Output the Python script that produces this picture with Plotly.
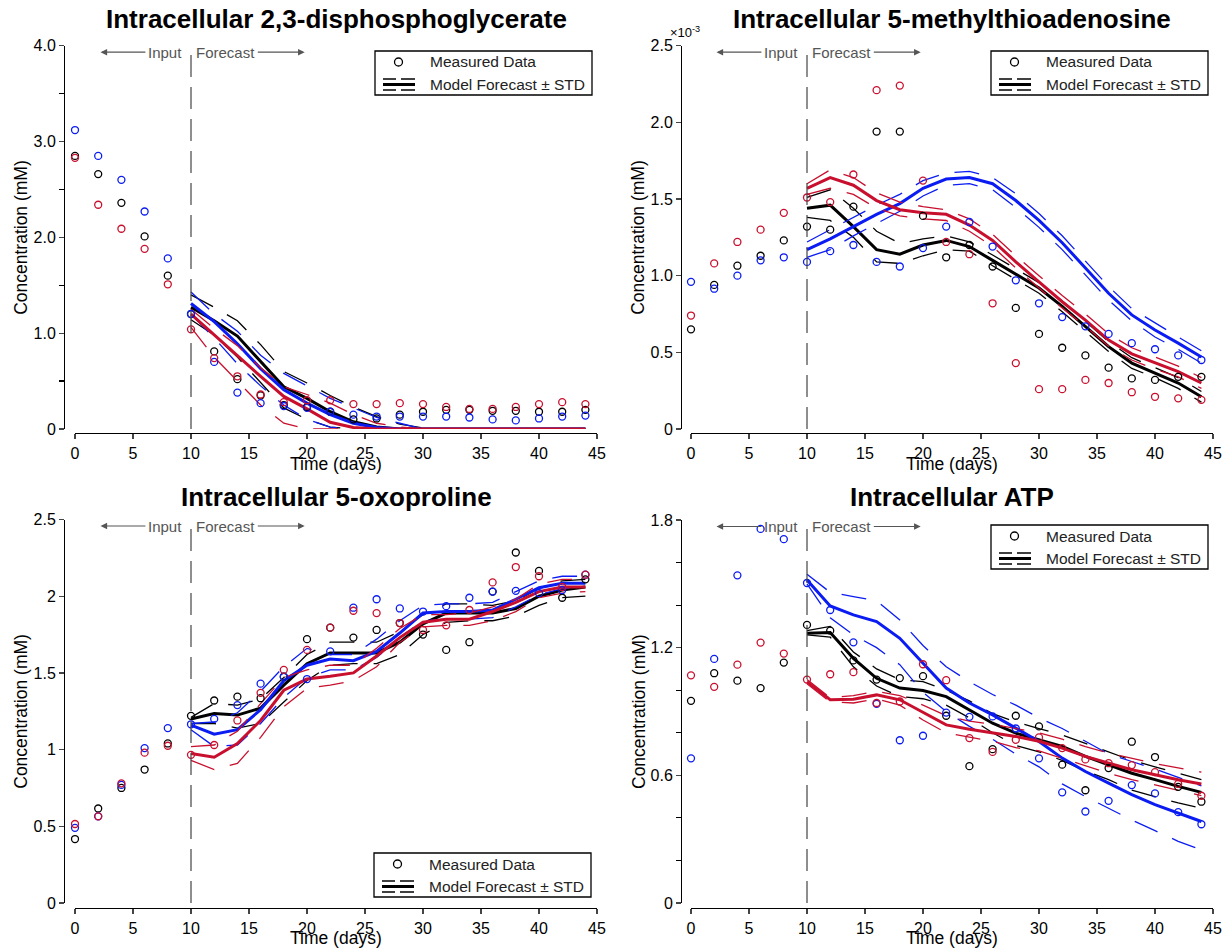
import plotly.graph_objects as go

# ---------------- data ----------------
t_meas = [0, 2, 4, 6, 8, 10, 12, 14, 16, 18, 20, 22, 24, 26, 28, 30, 32, 34, 36, 38, 40, 42, 44]
t_model = [10, 12, 14, 16, 18, 20, 22, 24, 26, 28, 30, 32, 34, 36, 38, 40, 42, 44]
x_ticks = [0, 5, 10, 15, 20, 25, 30, 35, 40, 45]

titles = ["Intracellular 2,3-disphosphoglycerate", "Intracellular 5-methylthioadenosine",
          "Intracellular 5-oxoproline", "Intracellular ATP"]

# Panel 1: 2,3-disphosphoglycerate
dpg_black = [2.85, 2.66, 2.36, 2.01, 1.60, 1.20, 0.81, 0.52, 0.35, 0.25, 0.23, 0.18, 0.10, 0.11, 0.15, 0.18, 0.20, 0.20, 0.19, 0.19, 0.18, 0.18, 0.20]
dpg_blue = [3.12, 2.85, 2.60, 2.27, 1.78, 1.20, 0.70, 0.38, 0.27, 0.24, 0.22, 0.18, 0.15, 0.13, 0.13, 0.13, 0.13, 0.12, 0.10, 0.09, 0.11, 0.13, 0.14]
dpg_red = [2.83, 2.34, 2.09, 1.88, 1.51, 1.04, 0.74, 0.55, 0.36, 0.28, 0.30, 0.30, 0.26, 0.26, 0.27, 0.26, 0.23, 0.21, 0.21, 0.23, 0.26, 0.28, 0.26]
dpg_black_mean = [1.27, 1.13, 0.97, 0.70, 0.44, 0.32, 0.18, 0.075, 0.02, 0, 0, 0, 0, 0, 0, 0, 0, 0]
dpg_black_up = [1.40, 1.27, 1.13, 0.88, 0.60, 0.48, 0.35, 0.23, 0.13, 0.05, 0.01, 0, 0, 0, 0, 0, 0, 0]
dpg_black_lo = [1.14, 0.98, 0.75, 0.48, 0.22, 0.10, 0.02, 0, 0, 0, 0, 0, 0, 0, 0, 0, 0, 0]
dpg_blue_mean = [1.31, 1.12, 0.89, 0.63, 0.41, 0.27, 0.15, 0.06, 0.015, 0, 0, 0, 0, 0, 0, 0, 0, 0]
dpg_blue_up = [1.43, 1.20, 1.02, 0.77, 0.58, 0.45, 0.32, 0.22, 0.12, 0.06, 0, 0, 0, 0, 0, 0, 0, 0]
dpg_blue_lo = [1.20, 0.95, 0.68, 0.45, 0.25, 0.10, 0.02, 0, 0, 0, 0, 0, 0, 0, 0, 0, 0, 0]
dpg_red_mean = [1.20, 0.98, 0.76, 0.55, 0.34, 0.21, 0.07, 0.015, 0, 0, 0, 0, 0, 0, 0, 0, 0, 0]
dpg_red_up = [1.25, 1.05, 0.87, 0.64, 0.44, 0.36, 0.27, 0.15, 0.06, 0.02, 0, 0, 0, 0, 0, 0, 0, 0]
dpg_red_lo = [1.06, 0.75, 0.50, 0.25, 0.06, 0, 0, 0, 0, 0, 0, 0, 0, 0, 0, 0, 0, 0]

# Panel 2: 5-methylthioadenosine (x 1e-3 mM)
mta_black = [0.65, 0.94, 1.065, 1.13, 1.23, 1.32, 1.30, 1.45, 1.94, 1.94, 1.39, 1.12, 1.20, 1.06, 0.79, 0.62, 0.53, 0.48, 0.40, 0.33, 0.32, 0.34, 0.34]
mta_blue = [0.96, 0.915, 1.00, 1.10, 1.12, 1.09, 1.16, 1.20, 1.09, 1.06, 1.18, 1.32, 1.35, 1.19, 0.97, 0.82, 0.73, 0.67, 0.62, 0.56, 0.52, 0.48, 0.45]
mta_red = [0.74, 1.08, 1.22, 1.30, 1.41, 1.51, 1.48, 1.66, 2.21, 2.24, 1.62, 1.22, 1.14, 0.82, 0.43, 0.26, 0.26, 0.32, 0.30, 0.24, 0.21, 0.20, 0.19]
mta_black_mean = [1.44, 1.46, 1.32, 1.17, 1.14, 1.20, 1.23, 1.19, 1.10, 1.01, 0.92, 0.80, 0.667, 0.537, 0.43, 0.367, 0.30, 0.21]
mta_black_up = [1.51, 1.56, 1.44, 1.29, 1.21, 1.24, 1.26, 1.22, 1.135, 1.045, 0.955, 0.835, 0.70, 0.57, 0.465, 0.40, 0.335, 0.245]
mta_black_lo = [1.38, 1.36, 1.25, 1.09, 1.08, 1.13, 1.17, 1.16, 1.065, 0.975, 0.885, 0.765, 0.635, 0.505, 0.395, 0.335, 0.265, 0.175]
mta_blue_mean = [1.17, 1.24, 1.32, 1.40, 1.47, 1.57, 1.63, 1.64, 1.60, 1.49, 1.36, 1.215, 1.05, 0.885, 0.744, 0.646, 0.56, 0.47]
mta_blue_up = [1.22, 1.30, 1.38, 1.46, 1.53, 1.62, 1.67, 1.68, 1.64, 1.535, 1.405, 1.26, 1.095, 0.93, 0.785, 0.69, 0.60, 0.51]
mta_blue_lo = [1.12, 1.17, 1.26, 1.34, 1.42, 1.52, 1.59, 1.60, 1.56, 1.445, 1.315, 1.17, 1.005, 0.84, 0.705, 0.60, 0.52, 0.43]
mta_red_mean = [1.57, 1.64, 1.59, 1.49, 1.43, 1.41, 1.40, 1.33, 1.23, 1.09, 0.96, 0.83, 0.71, 0.58, 0.49, 0.43, 0.374, 0.30]
mta_red_up = [1.60, 1.69, 1.64, 1.54, 1.48, 1.45, 1.43, 1.37, 1.27, 1.13, 1.00, 0.87, 0.75, 0.62, 0.53, 0.47, 0.41, 0.335]
mta_red_lo = [1.53, 1.57, 1.53, 1.44, 1.39, 1.37, 1.36, 1.29, 1.19, 1.05, 0.92, 0.79, 0.67, 0.54, 0.45, 0.39, 0.34, 0.265]

# Panel 3: 5-oxoproline
oxo_black = [0.417, 0.616, 0.75, 0.87, 1.04, 1.22, 1.32, 1.345, 1.335, 1.475, 1.72, 1.795, 1.73, 1.78, 1.825, 1.75, 1.65, 1.70, 2.03, 2.285, 2.165, 1.99, 2.11]
oxo_blue = [0.49, 0.565, 0.77, 1.01, 1.14, 1.165, 1.20, 1.29, 1.43, 1.475, 1.46, 1.64, 1.925, 1.98, 1.92, 1.90, 1.935, 1.99, 2.03, 2.035, 2.02, 2.04, 2.14]
oxo_red = [0.515, 0.565, 0.78, 0.98, 1.025, 0.966, 1.03, 1.19, 1.37, 1.52, 1.65, 1.795, 1.905, 1.89, 1.825, 1.78, 1.81, 1.91, 2.09, 2.19, 2.13, 2.06, 2.14]
oxo_black_mean = [1.20, 1.235, 1.225, 1.27, 1.42, 1.56, 1.63, 1.63, 1.63, 1.70, 1.82, 1.89, 1.89, 1.89, 1.92, 2.00, 2.04, 2.06]
oxo_black_up = [1.21, 1.30, 1.29, 1.33, 1.47, 1.62, 1.70, 1.70, 1.70, 1.77, 1.88, 1.95, 1.95, 1.94, 1.97, 2.05, 2.10, 2.11]
oxo_black_lo = [1.17, 1.17, 1.14, 1.17, 1.31, 1.45, 1.55, 1.56, 1.56, 1.62, 1.75, 1.83, 1.84, 1.84, 1.87, 1.94, 1.99, 2.00]
oxo_blue_mean = [1.16, 1.10, 1.13, 1.26, 1.45, 1.55, 1.59, 1.58, 1.64, 1.76, 1.89, 1.90, 1.90, 1.91, 1.98, 2.055, 2.085, 2.085]
oxo_blue_up = [1.17, 1.18, 1.24, 1.38, 1.54, 1.66, 1.62, 1.62, 1.72, 1.84, 1.94, 1.95, 1.95, 1.96, 2.03, 2.10, 2.13, 2.13]
oxo_blue_lo = [1.13, 1.02, 1.03, 1.17, 1.34, 1.47, 1.52, 1.52, 1.60, 1.73, 1.84, 1.85, 1.85, 1.86, 1.93, 2.01, 2.05, 2.06]
oxo_red_mean = [0.975, 0.95, 1.04, 1.19, 1.387, 1.46, 1.478, 1.50, 1.61, 1.73, 1.83, 1.85, 1.85, 1.90, 1.96, 2.03, 2.06, 2.06]
oxo_red_up = [1.02, 1.03, 1.12, 1.30, 1.47, 1.52, 1.55, 1.55, 1.66, 1.79, 1.88, 1.88, 1.89, 1.93, 1.98, 2.08, 2.11, 2.11]
oxo_red_lo = [0.93, 0.87, 0.91, 1.08, 1.28, 1.40, 1.42, 1.45, 1.54, 1.70, 1.80, 1.81, 1.81, 1.84, 1.90, 1.99, 2.02, 2.03]

# Panel 4: ATP
atp_black = [0.95, 1.08, 1.045, 1.01, 1.13, 1.307, 1.28, 1.14, 1.05, 1.057, 1.066, 0.88, 0.643, 0.723, 0.88, 0.83, 0.65, 0.53, 0.634, 0.758, 0.686, 0.546, 0.476]
atp_blue = [0.68, 1.147, 1.54, 1.758, 1.71, 1.504, 1.377, 1.225, 0.936, 0.765, 0.786, 0.895, 0.875, 0.877, 0.82, 0.68, 0.52, 0.43, 0.48, 0.554, 0.515, 0.427, 0.37]
atp_red = [1.07, 1.016, 1.12, 1.224, 1.172, 1.05, 1.075, 1.085, 0.94, 0.947, 1.122, 1.047, 0.775, 0.71, 0.767, 0.778, 0.728, 0.675, 0.657, 0.648, 0.615, 0.56, 0.504]
atp_black_mean = [1.268, 1.271, 1.15, 1.056, 1.01, 0.999, 0.97, 0.908, 0.845, 0.798, 0.767, 0.736, 0.689, 0.65, 0.61, 0.58, 0.548, 0.52]
atp_black_up = [1.28, 1.30, 1.18, 1.10, 1.05, 1.04, 1.00, 0.95, 0.89, 0.85, 0.82, 0.79, 0.75, 0.71, 0.67, 0.64, 0.61, 0.58]
atp_black_lo = [1.26, 1.25, 1.11, 1.02, 0.97, 0.96, 0.93, 0.87, 0.80, 0.74, 0.71, 0.67, 0.62, 0.58, 0.53, 0.50, 0.47, 0.445]
atp_blue_mean = [1.518, 1.396, 1.354, 1.323, 1.244, 1.127, 1.01, 0.94, 0.884, 0.822, 0.759, 0.681, 0.618, 0.563, 0.509, 0.462, 0.423, 0.383]
atp_blue_up = [1.545, 1.46, 1.44, 1.42, 1.33, 1.21, 1.11, 1.04, 0.98, 0.93, 0.87, 0.82, 0.76, 0.70, 0.665, 0.63, 0.59, 0.55]
atp_blue_lo = [1.50, 1.34, 1.26, 1.20, 1.12, 0.99, 0.90, 0.83, 0.77, 0.70, 0.64, 0.56, 0.50, 0.445, 0.39, 0.34, 0.29, 0.25]
atp_red_mean = [1.04, 0.955, 0.958, 0.978, 0.955, 0.895, 0.837, 0.817, 0.80, 0.783, 0.76, 0.728, 0.689, 0.657, 0.626, 0.603, 0.579, 0.559]
atp_red_up = [1.05, 0.965, 0.975, 0.995, 0.975, 0.93, 0.88, 0.855, 0.84, 0.82, 0.80, 0.77, 0.735, 0.705, 0.68, 0.655, 0.635, 0.615]
atp_red_lo = [1.03, 0.945, 0.94, 0.96, 0.93, 0.86, 0.80, 0.78, 0.76, 0.73, 0.715, 0.68, 0.645, 0.61, 0.58, 0.555, 0.53, 0.505]

# y-axis ticks
p1_yticks = [0, 1, 2, 3, 4]
p1_ylabels = ["0", "1.0", "2.0", "3.0", "4.0"]
p1_yminor = [0.5, 1.5, 2.5, 3.5]
p2_yticks = [0, 0.5, 1, 1.5, 2, 2.5]
p2_ylabels = ["0", "0.5", "1.0", "1.5", "2.0", "2.5"]
p3_yticks = [0, 0.5, 1, 1.5, 2, 2.5]
p3_ylabels = ["0", "0.5", "1", "1.5", "2", "2.5"]
p4_yticks = [0, 0.6, 1.2, 1.8]
p4_ylabels = ["0", "0.6", "1.2", "1.8"]
p4_yminor = [0.2, 0.4, 0.8, 1.0, 1.4, 1.6]

# ---------------- styling / layout ----------------
OFF = 0            # body margin removed by the post script below
W, H = 1222, 949
FONT = "Liberation Sans, Arial, sans-serif"
BLACK, BLUE, RED = "#000000", "#0a1cf2", "#c8102e"
GRAY = "#555555"
STD_DASH = "25px,16px"


def px(p):
    return (p - OFF) / W


def py(p):
    return 1 - (p - OFF) / H


panels = [
    dict(meas=[dpg_black, dpg_blue, dpg_red],
         mean=[dpg_black_mean, dpg_blue_mean, dpg_red_mean],
         up=[dpg_black_up, dpg_blue_up, dpg_red_up],
         lo=[dpg_black_lo, dpg_blue_lo, dpg_red_lo],
         yticks=p1_yticks, ylabels=p1_ylabels, yminor=p1_yminor, ymax=4.0,
         xl=75, xr=597, yt=45.7, yb=429, yax=64, xay=433, leg=(375, 51), title_y=19, xt_y=464),
    dict(meas=[mta_black, mta_blue, mta_red],
         mean=[mta_black_mean, mta_blue_mean, mta_red_mean],
         up=[mta_black_up, mta_blue_up, mta_red_up],
         lo=[mta_black_lo, mta_blue_lo, mta_red_lo],
         yticks=p2_yticks, ylabels=p2_ylabels, yminor=None, ymax=2.5,
         xl=691, xr=1213, yt=45.7, yb=429, yax=681, xay=433, leg=(991, 51), title_y=19, xt_y=464),
    dict(meas=[oxo_black, oxo_blue, oxo_red],
         mean=[oxo_black_mean, oxo_blue_mean, oxo_red_mean],
         up=[oxo_black_up, oxo_blue_up, oxo_red_up],
         lo=[oxo_black_lo, oxo_blue_lo, oxo_red_lo],
         yticks=p3_yticks, ylabels=p3_ylabels, yminor=None, ymax=2.5,
         xl=75, xr=597, yt=519.5, yb=903, yax=64, xay=908, leg=(374, 853), title_y=497, xt_y=938),
    dict(meas=[atp_black, atp_blue, atp_red],
         mean=[atp_black_mean, atp_blue_mean, atp_red_mean],
         up=[atp_black_up, atp_blue_up, atp_red_up],
         lo=[atp_black_lo, atp_blue_lo, atp_red_lo],
         yticks=p4_yticks, ylabels=p4_ylabels, yminor=p4_yminor, ymax=1.8,
         xl=691, xr=1213, yt=520, yb=903, yax=681, xay=908, leg=(991, 525), title_y=497, xt_y=938),
]

colors = [BLACK, BLUE, RED]
fig = go.Figure()
annotations = []
shapes = []
layout = {}

for i, p in enumerate(panels, start=1):
    xa = "x" if i == 1 else f"x{i}"
    ya = "y" if i == 1 else f"y{i}"
    # lines
    for c, mean, up, lo in zip(colors, p["mean"], p["up"], p["lo"]):
        for band in (up, lo):
            fig.add_trace(go.Scatter(x=t_model, y=band, xaxis=xa, yaxis=ya, mode="lines",
                                     line=dict(color=c, width=1.3, dash=STD_DASH),
                                     showlegend=False, hoverinfo="skip", cliponaxis=False))
        fig.add_trace(go.Scatter(x=t_model, y=mean, xaxis=xa, yaxis=ya, mode="lines",
                                 line=dict(color=c, width=3),
                                 showlegend=False, cliponaxis=False))
    for c, meas in zip(colors, p["meas"]):
        fig.add_trace(go.Scatter(x=t_meas, y=meas, xaxis=xa, yaxis=ya, mode="markers",
                                 marker=dict(symbol="circle-open", size=7, color=c, line=dict(width=1.3, color=c)),
                                 showlegend=False, cliponaxis=False))

    xkey = "xaxis" if i == 1 else f"xaxis{i}"
    ykey = "yaxis" if i == 1 else f"yaxis{i}"
    layout[xkey] = dict(domain=[px(p["xl"]), px(p["xr"])], range=[0, 45], anchor="free",
                        position=py(p["xay"]), tickvals=x_ticks, ticks="outside", ticklen=5,
                        tickwidth=1.2, showline=True, linecolor="black", linewidth=1.3,
                        showgrid=False, zeroline=False, automargin=False, ticklabeloverflow="allow",
                        tickfont=dict(family=FONT, size=16, color="black"))
    ydict = dict(domain=[py(p["yb"]), py(p["yt"])], range=[0, p["ymax"]], anchor="free",
                 position=px(p["yax"]), tickvals=p["yticks"], ticktext=p["ylabels"],
                 ticks="outside", ticklen=5, tickwidth=1.2, showline=True, linecolor="black",
                 linewidth=1.3, showgrid=False, zeroline=False, automargin=False,
                 ticklabeloverflow="allow",
                 tickfont=dict(family=FONT, size=16, color="black"))
    if p["yminor"]:
        ydict["minor"] = dict(tickvals=p["yminor"], ticks="outside", ticklen=5, tickwidth=1.2,
                              tickcolor="black", showgrid=False)
    layout[ykey] = ydict

    cx = (p["xl"] + p["xr"]) / 2
    # title
    annotations.append(dict(text="<b>" + titles[i - 1] + "</b>", xref="paper", yref="paper",
                            x=px(cx), y=py(p["title_y"]), showarrow=False, xanchor="center",
                            yanchor="middle", font=dict(family=FONT, size=26, color="black")))
    # axis titles
    annotations.append(dict(text="Time (days)", xref="paper", yref="paper", x=px(cx),
                            y=py(p["xt_y"]), showarrow=False, xanchor="center", yanchor="middle",
                            font=dict(family=FONT, size=17.5, color="black")))
    annotations.append(dict(text="Concentration (mM)", xref="paper", yref="paper",
                            x=px(p["yax"] - 42.5), y=py((p["yt"] + p["yb"]) / 2), textangle=-90,
                            showarrow=False, xanchor="center", yanchor="middle",
                            font=dict(family=FONT, size=17.5, color="black")))
    # input / forecast
    yin = p["ymax"] * (1 - 6.5 / (p["yb"] - p["yt"]))
    annotations.append(dict(text="Input", xref=xa, yref=ya, x=2.2, y=yin, axref=xa, ayref=ya,
                            ax=7.75, ay=yin, showarrow=True, arrowhead=2, arrowsize=1.1,
                            arrowwidth=1.2, arrowcolor=GRAY, borderpad=2,
                            font=dict(family=FONT, size=15, color=GRAY)))
    annotations.append(dict(text="Forecast", xref=xa, yref=ya, x=19.8, y=yin, axref=xa, ayref=ya,
                            ax=13.0, ay=yin, showarrow=True, arrowhead=2, arrowsize=1.1,
                            arrowwidth=1.2, arrowcolor=GRAY, borderpad=2,
                            font=dict(family=FONT, size=15, color=GRAY)))
    # vertical divider at day 10
    shapes.append(dict(type="line", xref=xa, yref=ya, x0=10, x1=10, y0=0, y1=p["ymax"],
                       line=dict(color="#444444", width=1.2, dash="22px,10px")))
    # legend box
    L, T = p["leg"]
    shapes.append(dict(type="rect", xref="paper", yref="paper", x0=px(L), x1=px(L + 217),
                       y0=py(T + 44), y1=py(T), line=dict(color="black", width=1.3),
                       fillcolor="white", layer="above"))
    shapes.append(dict(type="circle", xref="paper", yref="paper", x0=px(L + 19.5), x1=px(L + 27.5),
                       y0=py(T + 15), y1=py(T + 7), line=dict(color="black", width=1.3), layer="above"))
    for yy in (T + 28, T + 39):
        for a, b in ((L + 8, L + 21), (L + 26, L + 40)):
            shapes.append(dict(type="line", xref="paper", yref="paper", x0=px(a), x1=px(b),
                               y0=py(yy), y1=py(yy), line=dict(color="black", width=1.5), layer="above"))
    shapes.append(dict(type="line", xref="paper", yref="paper", x0=px(L + 8), x1=px(L + 40),
                       y0=py(T + 33.5), y1=py(T + 33.5), line=dict(color="black", width=3), layer="above"))
    annotations.append(dict(text="Measured Data", xref="paper", yref="paper", x=px(L + 53),
                            y=py(T + 11), showarrow=False, xanchor="left", yanchor="middle",
                            font=dict(family=FONT, size=15.5, color="#222222")))
    annotations.append(dict(text="Model Forecast ± STD", xref="paper", yref="paper", x=px(L + 53),
                            y=py(T + 33.5), showarrow=False, xanchor="left", yanchor="middle",
                            font=dict(family=FONT, size=15.5, color="#222222")))

# exponent label for panel 2
annotations.append(dict(text="×10<sup>-3</sup>", xref="paper", yref="paper",
                        x=px(668), y=py(32), showarrow=False, xanchor="left", yanchor="middle",
                        font=dict(family=FONT, size=13, color="black")))

fig.update_layout(width=W, height=H, margin=dict(l=0, r=0, t=0, b=0, pad=0, autoexpand=False),
                  paper_bgcolor="white", plot_bgcolor="white", hovermode=False,
                  showlegend=False, annotations=annotations, shapes=shapes, **layout)

fig.write_html("out.html",
               config={"displayModeBar": False, "staticPlot": True},
               post_script="document.body.style.margin='0';"
                           "document.documentElement.style.overflow='hidden';")
